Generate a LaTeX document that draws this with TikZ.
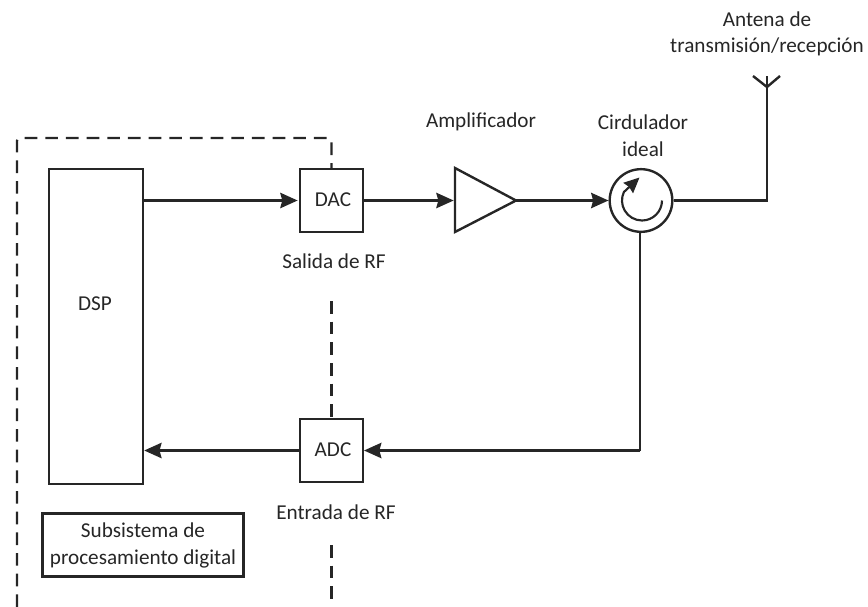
\documentclass[tikz,border=0pt]{standalone}
\usepackage{fontspec}
\setmainfont{Carlito}
\usetikzlibrary{arrows.meta,calc}
\tikzset{
  wire/.style={line width=1.8pt,draw=black!85},
  boxn/.style={draw=black!85,line width=1.8pt,inner sep=0pt},
  flow/.style={line width=1.8pt,draw=black!85,-{Stealth[length=13pt,width=11.5pt,inset=1.5pt,sep=1pt]}},
  flowin/.style={line width=1.8pt,draw=black!85,-{Stealth[length=13pt,width=11.5pt,inset=1.5pt]}},
  dashline/.style={line width=1.7pt,draw=black!85,dash pattern=on 9.5pt off 6pt},
  lbl/.style={inner sep=0pt,align=center,font=\fontsize{15.9}{20}\selectfont,text=black!85}
}
\begin{document}
\begin{tikzpicture}[x=0.75pt,y=-0.75pt]
\useasboundingbox (0,0) rectangle (868,607);
\node[boxn,minimum width=70.5pt,minimum height=236pt] (dsp) at (96,326.5) {};
\node[lbl] (dsplbl) at (95,304) {DSP};
\node[boxn,minimum width=47pt,minimum height=47pt] (dac) at (331.5,200.5) {};
\node[lbl] (daclbl) at (333,200) {DAC};
\node[boxn,minimum width=47pt,minimum height=47pt] (adc) at (331.5,450.5) {};
\node[lbl] (adclbl) at (333,450) {ADC};
\node[boxn,minimum width=151pt,minimum height=47.5pt] (sub) at (143,545) {};
\node[lbl] (sublbl) at (143,545.5) {Subsistema de\\procesamiento digital};
\node[lbl] (sal) at (334,261) {Salida de RF};
\node[lbl] (ent) at (336,512) {Entrada de RF};
\node[lbl] (amplbl) at (481,122) {Amplificador};
\node[lbl] (cirlbl) at (643,136) {Cirdulador\\ideal};
\node[lbl] (antlbl) at (767,34) {Antena de\\transmisión/recepción};
% amplifier
\coordinate (ampin) at (455,200.5);
\coordinate (ampout) at (516,200.5);
\draw[wire,line join=miter] (455,168) -- (ampout) -- (455,232) -- cycle;
% circulator
\node[circle,draw=black!85,line width=1.8pt,minimum size=47pt,inner sep=0pt] (circ) at (641,200.5) {};
\draw[line width=1.6pt,draw=black!85,-{Stealth[length=11.5pt,width=10.5pt,inset=1pt]}]
  (662,200.5) arc[start angle=0,end angle=205,radius=20] -- (639.5,177.5);
% connectors
\draw[flow] (dsp.east |- dac) -- (dac);
\draw[flow] (dac.east) -- (ampin);
\draw[flowin] (ampout) -- (circ);
\coordinate (antbase) at (767,200.5);
\coordinate (anttop) at (767,76);
\coordinate (antl) at (753,76);
\coordinate (antr) at (780,76);
\coordinate (antj) at (767,87);
\draw[wire,line join=miter] (circ) -- (antbase) -- (anttop);
\draw[wire] (antl) -- (antj) -- (antr);
\coordinate (corner) at (640,450.5);
\draw[wire] (circ.south -| corner) -- (corner);
\draw[flowin] (corner) -- (adc);
\draw[flowin] (adc) -- (dsp.east |- adc);
% dashed boundary
\coordinate (b0) at (17,607);
\coordinate (b1) at (17,138);
\coordinate (b2) at (331.5,138);
\draw[dashline,rounded corners=2pt] (b0) -- (b1) -- (b2) -- (dac.north);
\coordinate (m0) at (331.5,301);
\draw[dashline] (m0) -- (adc.north);
\coordinate (m1) at (331.5,545);
\coordinate (m2) at (331.5,602);
\draw[dashline] (m1) -- (m2);
\end{tikzpicture}
\end{document}
